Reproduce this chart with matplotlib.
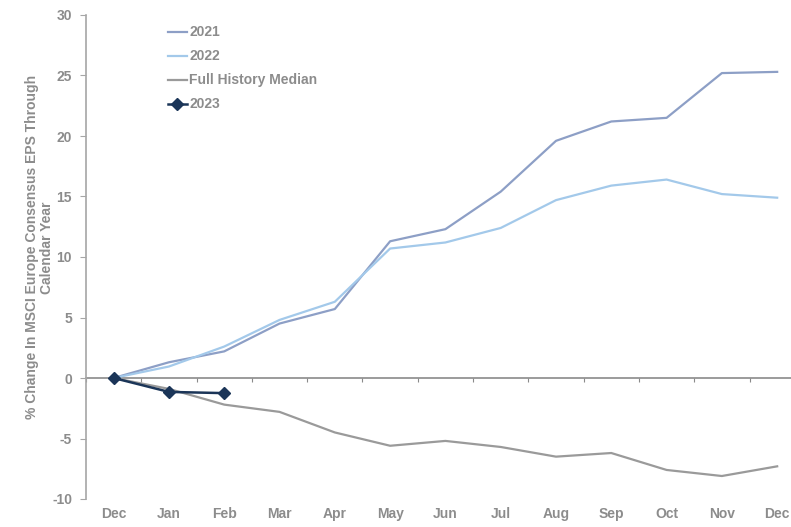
import numpy as np
import matplotlib
matplotlib.use("Agg")
import matplotlib.pyplot as plt

# Data
months = ['Dec', 'Jan', 'Feb', 'Mar', 'Apr', 'May', 'Jun', 'Jul', 'Aug', 'Sep', 'Oct', 'Nov', 'Dec']
eps_2021 = [0, 1.3, 2.2, 4.5, 5.7, 11.3, 12.3, 15.4, 19.6, 21.2, 21.5, 25.2, 25.3]
eps_2022 = [0, 0.95, 2.6, 4.8, 6.3, 10.7, 11.2, 12.4, 14.7, 15.9, 16.4, 15.2, 14.9]
median = [0, -0.9, -2.2, -2.8, -4.5, -5.6, -5.2, -5.7, -6.5, -6.2, -7.6, -8.1, -7.3]
eps_2023 = [0, -1.15, -1.25]

grey = '#8c8c8c'
plt.rcParams['font.family'] = ['Liberation Sans', 'DejaVu Sans']
plt.rcParams['font.weight'] = 'bold'
plt.rcParams['axes.labelweight'] = 'bold'
plt.rcParams['axes.unicode_minus'] = False

fig = plt.figure(figsize=(7.91, 5.27), dpi=100)
ax = fig.add_axes([86 / 791, 28 / 527, 705 / 791, 484 / 527])

x = np.arange(len(months))
ax.plot(x, eps_2021, color='#8d9fc6', lw=1.6, label='2021')
ax.plot(x, eps_2022, color='#a3c9ea', lw=1.6, label='2022')
ax.plot(x, median, color='#9a9a9a', lw=1.6, label='Full History Median')
ax.plot(x[:len(eps_2023)], eps_2023, color='#1b3558', lw=1.8, marker='D',
        markersize=6, label='2023')

ax.set_xlim(-0.5, 12.25)
ax.set_ylim(-10, 30)
ax.set_yticks(range(-10, 31, 5))

for s in ['top', 'right', 'bottom']:
    ax.spines[s].set_visible(False)
ax.spines['left'].set_color('#a6a6a6')
ax.spines['left'].set_linewidth(1.2)
ax.tick_params(axis='y', colors='#a6a6a6', labelcolor=grey, labelsize=10, length=4, pad=6)

# month labels along the bottom, no tick marks
ax.set_xticks(x)
ax.set_xticklabels(months)
ax.tick_params(axis='x', length=0, labelcolor=grey, labelsize=10, pad=6)

# category axis line at zero with ticks between months
zero_loc = (0 - ax.get_ylim()[0]) / (ax.get_ylim()[1] - ax.get_ylim()[0])
sec = ax.secondary_xaxis(zero_loc)
sec.set_xticks(np.arange(-0.5, 12.5, 1))
sec.tick_params(axis='x', direction='out', length=3, color='#8a8a8a', labelbottom=False)
sec.spines['bottom'].set_color('#8a8a8a')
sec.spines['bottom'].set_linewidth(1.2)

ax.set_ylabel('% Change In MSCI Europe Consensus EPS Through\nCalendar Year',
              color=grey, fontsize=10, linespacing=1.1)
ax.yaxis.set_label_coords(-0.045, 0.52)

leg = ax.legend(loc='upper left', bbox_to_anchor=(0.108, 0.99), frameon=False,
                fontsize=10, handlelength=1.4, handletextpad=0.15, labelspacing=0.72,
                borderaxespad=0)
for t in leg.get_texts():
    t.set_color(grey)

fig.savefig('out.png', dpi=100)
